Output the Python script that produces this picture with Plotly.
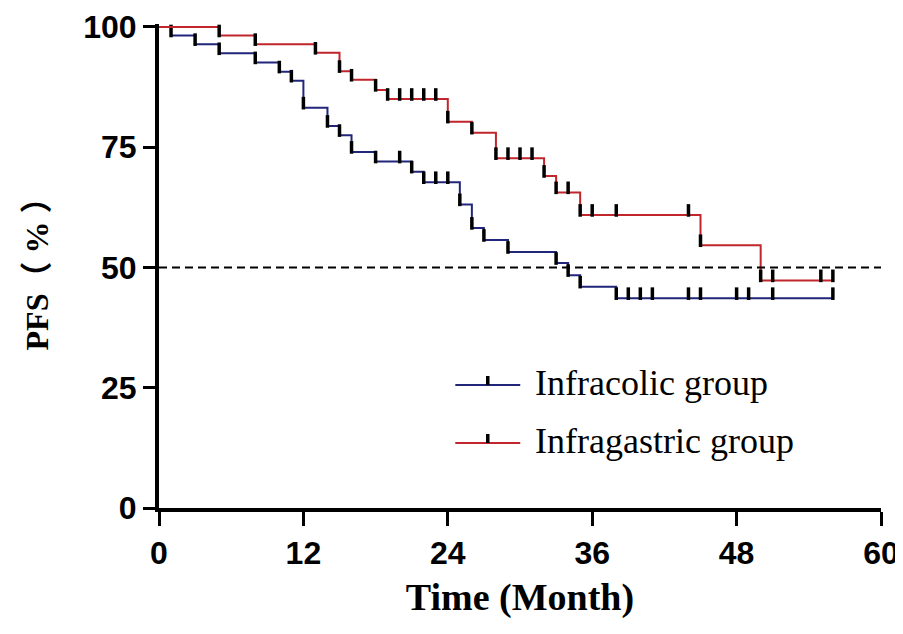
import numpy as np
import plotly.graph_objects as go

# ---- data ----
x_ticks = [0, 12, 24, 36, 48, 60]
y_ticks = [0, 25, 50, 75, 100]

colic_event_times = [1, 3, 5, 8, 10, 11, 12, 14, 15, 16, 18, 21, 22, 25, 26, 27, 29, 33, 34, 35, 38]
colic_event_surv = [98.2, 96.4, 94.5, 92.6, 90.7, 88.8, 83.2, 79.4, 77.5, 74.0, 72.0, 69.9, 67.7,
                    63.1, 58.2, 55.7, 53.2, 50.9, 48.4, 46.0, 43.6]
colic_censor_times = [20, 23, 24, 39, 40, 41, 44, 45, 48, 49, 51, 56]

gastric_event_times = [5, 8, 13, 15, 16, 18, 19, 24, 26, 28, 32, 33, 35, 45, 50]
gastric_event_surv = [98.2, 96.4, 94.6, 90.8, 89.0, 86.9, 85.0, 80.3, 78.0, 72.7, 69.0, 65.6,
                      60.9, 54.6, 47.3]
gastric_censor_times = [20, 21, 22, 23, 29, 30, 31, 34, 36, 38, 44, 51, 55, 56]

median_line = 50

BLUE = "#20267a"
RED = "#c0262b"
TICK_OFFSET = 0.95  # data units: marks sit just above the curve


def surv_at(t, ev_t, ev_s):
    ev_t = np.asarray(ev_t, float)
    ev_s = np.asarray(ev_s, float)
    idx = np.searchsorted(ev_t, t, side="right") - 1
    return np.where(idx >= 0, ev_s[np.clip(idx, 0, None)], 100.0)


fig = go.Figure()


def add_group(name, ev_t, ev_s, cens_t, color):
    end_t = max(max(cens_t), max(ev_t))
    xs = [0] + list(ev_t) + [end_t]
    ys = [100] + list(ev_s) + [ev_s[-1]]
    fig.add_trace(go.Scatter(x=xs, y=ys, mode="lines", line=dict(color=color, width=2, shape="hv"),
                             name=name, showlegend=False, hoverinfo="skip"))
    mark_t = np.array(list(ev_t) + list(cens_t), float)
    mark_s = surv_at(mark_t, ev_t, ev_s)
    fig.add_trace(go.Scatter(x=mark_t, y=mark_s + TICK_OFFSET, mode="markers",
                             marker=dict(symbol="line-ns", size=9, line=dict(color="black", width=3.5)),
                             showlegend=False, hoverinfo="skip", cliponaxis=False))


add_group("Infracolic group", colic_event_times, colic_event_surv, colic_censor_times, BLUE)
add_group("Infragastric group", gastric_event_times, gastric_event_surv, gastric_censor_times, RED)

fig.add_hline(y=median_line, line=dict(color="black", width=2, dash="8px,5px"))

# page has an 8px body margin; the figure is sized to fit the window after it
OFF = 8
W, H = 895, 612
L, R, T, B = 150.5, 22, 16, 112

fig.update_layout(
    width=W, height=H,
    margin=dict(l=L, r=R, t=T, b=B, autoexpand=False),
    paper_bgcolor="white", plot_bgcolor="white",
    showlegend=False,
    xaxis=dict(range=[0, 60], tickvals=x_ticks, ticktext=[str(v) for v in x_ticks],
               automargin=False,
               showgrid=False, zeroline=False, showline=True, linecolor="black", linewidth=4,
               ticks="outside", ticklen=14, tickwidth=3, tickcolor="black",
               tickfont=dict(family="Liberation Sans", size=32, color="black", weight="bold"),
               title=dict(text="Time (Month)", standoff=14,
                          font=dict(family="Liberation Serif", size=38, color="black", weight="bold"))),
    yaxis=dict(range=[0, 100.6], tickvals=y_ticks, ticktext=[str(v) for v in y_ticks],
               automargin=False,
               showgrid=False, zeroline=False, showline=True, linecolor="black", linewidth=4,
               ticks="outside", ticklen=12, tickwidth=3, tickcolor="black",
               tickfont=dict(family="Liberation Sans", size=32, color="black", weight="bold"),
               title=dict(text="PFS（ % ）", standoff=26,
                          font=dict(family="Liberation Serif, Noto Sans CJK SC", size=32, color="black",
                                    weight="bold"))),
)

# custom legend drawn in paper coordinates (positions given in page pixels)
pw = W - L - R
ph = H - T - B


def px_x(px):
    return (px - OFF - L) / pw


def px_y(py):
    return (H - B - (py - OFF)) / ph


for label, color, py in [("Infracolic group", BLUE, 385), ("Infragastric group", RED, 443)]:
    fig.add_shape(type="line", xref="paper", yref="paper",
                  x0=px_x(455), x1=px_x(520), y0=px_y(py), y1=px_y(py),
                  line=dict(color=color, width=2))
    fig.add_shape(type="line", xref="paper", yref="paper",
                  x0=px_x(487.5), x1=px_x(487.5), y0=px_y(py), y1=px_y(py - 9),
                  line=dict(color="black", width=3.5))
    fig.add_annotation(xref="paper", yref="paper", x=px_x(533), y=px_y(py - 2),
                       xanchor="left", yanchor="middle", showarrow=False, text=label,
                       font=dict(family="Liberation Serif", size=36, color="black"))

fig.write_html("out.html")
